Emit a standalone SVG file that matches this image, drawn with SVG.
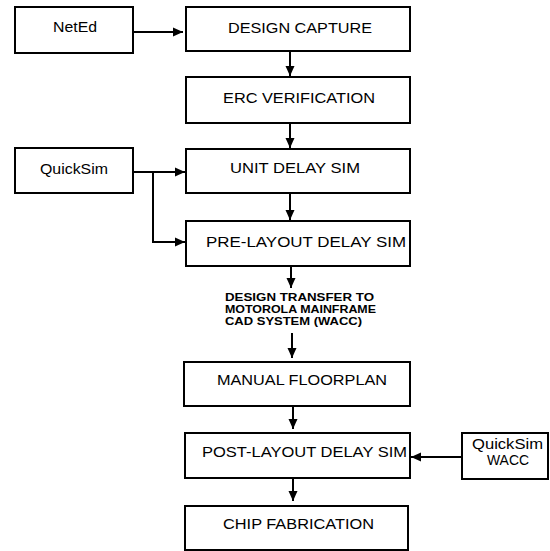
<svg xmlns="http://www.w3.org/2000/svg" width="550" height="551" viewBox="0 0 550 551">
<style>
.box{fill:#fff;stroke:#000;stroke-width:2}
.lbl{font-family:"Liberation Sans",Arial,sans-serif;font-size:15.5px;fill:#000}
.small{font-family:"Liberation Sans",Arial,sans-serif;font-size:10.3px;font-weight:bold;fill:#000}
.con{fill:none;stroke:#000;stroke-width:2}
</style>
<defs>
<marker id="ah" markerUnits="userSpaceOnUse" markerWidth="11" markerHeight="10" refX="10" refY="5" orient="auto">
<path d="M0,0.5 L10,5 L0,9.5 Z" fill="#000"/>
</marker>
</defs>
<rect width="550" height="551" fill="#fff"/>
<g id="connectors">
<path class="con" d="M133,32 H183" marker-end="url(#ah)"/>
<path class="con" d="M290,51 V76" marker-end="url(#ah)"/>
<path class="con" d="M290,123 V148" marker-end="url(#ah)"/>
<path class="con" d="M133,172 H185" marker-end="url(#ah)"/>
<path class="con" d="M153,172 V242 H185" marker-end="url(#ah)"/>
<path class="con" d="M290,193 V220" marker-end="url(#ah)"/>
<path class="con" d="M291,266 V288" marker-end="url(#ah)"/>
<path class="con" d="M292,333 V358" marker-end="url(#ah)"/>
<path class="con" d="M293,406 V429" marker-end="url(#ah)"/>
<path class="con" d="M293,478 V501" marker-end="url(#ah)"/>
<path class="con" d="M462,457 H411" marker-end="url(#ah)"/>
</g>
<g id="neted">
<rect class="box" x="15" y="7" width="118" height="46"/>
<text class="lbl" x="53" y="32" textLength="44" lengthAdjust="spacingAndGlyphs">NetEd</text>
</g>
<g id="design-capture">
<rect class="box" x="186" y="7" width="224" height="44"/>
<text class="lbl" x="228" y="33" textLength="144" lengthAdjust="spacingAndGlyphs">DESIGN CAPTURE</text>
</g>
<g id="erc">
<rect class="box" x="186" y="77" width="224" height="46"/>
<text class="lbl" x="223" y="103" textLength="152" lengthAdjust="spacingAndGlyphs">ERC VERIFICATION</text>
</g>
<g id="quicksim">
<rect class="box" x="15" y="148" width="118" height="45"/>
<text class="lbl" x="40" y="174" textLength="68" lengthAdjust="spacingAndGlyphs">QuickSim</text>
</g>
<g id="unit-delay">
<rect class="box" x="186" y="149" width="224" height="44"/>
<text class="lbl" x="230" y="173" textLength="130" lengthAdjust="spacingAndGlyphs">UNIT DELAY SIM</text>
</g>
<g id="pre-layout">
<rect class="box" x="186" y="221" width="224" height="45"/>
<text class="lbl" x="206" y="247" textLength="200" lengthAdjust="spacingAndGlyphs">PRE-LAYOUT DELAY SIM</text>
</g>
<g id="transfer">
<text class="small" x="225" y="300.5" textLength="149" lengthAdjust="spacingAndGlyphs">DESIGN TRANSFER TO</text>
<text class="small" x="225" y="312.5" textLength="151" lengthAdjust="spacingAndGlyphs">MOTOROLA MAINFRAME</text>
<text class="small" x="225" y="324.5" textLength="137" lengthAdjust="spacingAndGlyphs">CAD SYSTEM (WACC)</text>
</g>
<g id="floorplan">
<rect class="box" x="184" y="362" width="226" height="44"/>
<text class="lbl" x="217" y="385" textLength="170" lengthAdjust="spacingAndGlyphs">MANUAL FLOORPLAN</text>
</g>
<g id="post-layout">
<rect class="box" x="185" y="433" width="225" height="45"/>
<text class="lbl" x="202" y="457" textLength="205" lengthAdjust="spacingAndGlyphs">POST-LAYOUT DELAY SIM</text>
</g>
<g id="chip-fab">
<rect class="box" x="185" y="506" width="223" height="44"/>
<text class="lbl" x="223" y="529" textLength="151" lengthAdjust="spacingAndGlyphs">CHIP FABRICATION</text>
</g>
<g id="quicksim-wacc">
<rect class="box" x="462" y="433" width="86" height="46"/>
<text class="lbl" x="472" y="449" textLength="71" lengthAdjust="spacingAndGlyphs">QuickSim</text>
<text class="lbl" x="487" y="465" textLength="42" lengthAdjust="spacingAndGlyphs">WACC</text>
</g>
</svg>
